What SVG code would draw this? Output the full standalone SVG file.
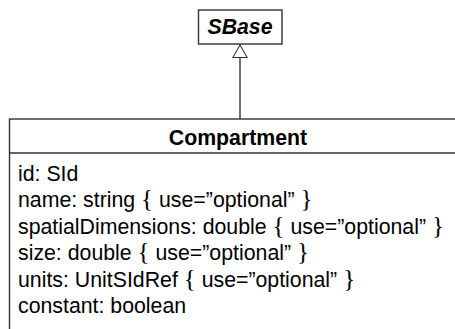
<svg xmlns="http://www.w3.org/2000/svg" width="455" height="329" viewBox="0 0 455 329">
<style>
.box{fill:#fff;stroke:#333;stroke-width:1.4}
.t{font-family:"Liberation Sans",Arial,sans-serif;font-size:21.3px;fill:#000}
.b{font-weight:bold}
.br{font-family:"Liberation Serif","DejaVu Serif",serif;font-size:25px}
.conn{stroke:#333;stroke-width:1.4;fill:none}
</style>
<defs>
<marker id="gen" viewBox="0 0 14 16" refX="13.3" refY="8" markerWidth="14" markerHeight="16" markerUnits="userSpaceOnUse" orient="auto">
<path d="M13.3,8 L0.7,0.8 L0.7,15.2 Z" fill="#fff" stroke="#333" stroke-width="1.1"/>
</marker>
</defs>
<g id="connectors">
<line class="conn" x1="240" y1="119" x2="240" y2="45" marker-end="url(#gen)"/>
</g>
<g id="SBase">
<rect class="box" x="198.5" y="10" width="83.5" height="34"/>
<text class="t b" x="240" y="34" text-anchor="middle" font-style="italic" font-size="19.5px">SBase</text>
</g>
<g id="Compartment">
<rect class="box" x="9.5" y="119" width="460" height="220"/>
<line class="conn" x1="9.5" y1="153" x2="470" y2="153"/>
<text class="t b" x="238" y="145" text-anchor="middle" font-size="20.5px">Compartment</text>
<text class="t" x="18" y="181">id: SId</text>
<text class="t" x="18" y="207">name: string <tspan class="br">{</tspan> use=”optional” <tspan class="br">}</tspan></text>
<text class="t" x="18" y="234">spatialDimensions: double <tspan class="br">{</tspan> use=”optional” <tspan class="br">}</tspan></text>
<text class="t" x="18" y="260">size: double <tspan class="br">{</tspan> use=”optional” <tspan class="br">}</tspan></text>
<text class="t" x="18" y="287">units: UnitSIdRef <tspan class="br">{</tspan> use=”optional” <tspan class="br">}</tspan></text>
<text class="t" x="18" y="313">constant: boolean</text>
</g>
</svg>
